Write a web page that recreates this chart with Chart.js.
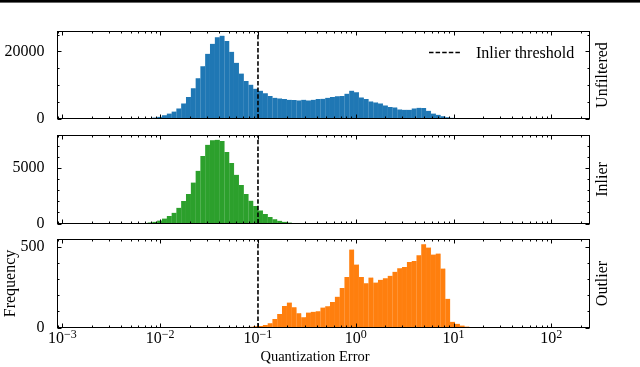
<!DOCTYPE html>
<html lang="en">
<head>
<meta charset="utf-8">
<title>Quantization Error</title>
<script src="https://cdn.jsdelivr.net/npm/chart.js"></script>
<style>
  body { margin: 0; background: #fff; }
  #topbar { position: absolute; left: 0; top: 0; width: 640px; height: 2px; background: #000; border-bottom: 1px solid #666; }
  canvas.panel { position: absolute; left: 0; top: 0; }
</style>
</head>
<body>
<div id="topbar"></div>
<canvas id="unfiltered" class="panel" width="640" height="367"></canvas>
<canvas id="inlier" class="panel" width="640" height="367"></canvas>
<canvas id="outlier" class="panel" width="640" height="367"></canvas>

<script>
// histogram bins are log10-spaced, one edge sits on the threshold
const threshold = 0.1;
const binWidth = 0.0491;          // decades per bin

// counts per bin, first entry is bin number <start> counted from the threshold edge
const unfilteredStart = -25;
const unfilteredCounts = [30, 60, 150, 300, 500, 1000, 1500, 2100, 3000, 4500, 6400, 9000, 12000, 15600, 19300, 22300, 24200, 24700, 23100, 19900, 16600, 13400, 11200, 10100, 8900,
  8300, 7500, 6700, 6200, 6000, 5800, 5600, 5500, 5400, 5600, 5400, 5600, 5800, 5900, 6200, 6400, 6600, 6700, 7400, 8300, 7800, 6300, 5800, 5100, 4800, 4500, 3900, 3400, 3300, 2700, 2600, 2600, 3000, 3200, 3100, 2300, 1500, 1100, 700, 400, 200, 80];

const inlierStart = -24;
const inlierCounts = [50, 100, 150, 270, 450, 670, 970, 1420, 2030, 2670, 3700, 4760, 6100, 7100, 7520, 7560, 7450, 6450, 5450, 4390, 3480, 2670, 2060, 1580,
  1180, 850, 580, 390, 240, 150, 90, 40, 15];

const outlierStart = -3;
const outlierCounts = [3, 5, 8, 10, 15, 27, 52, 83, 133, 155, 126, 89, 64, 93, 97, 100, 124, 131, 158, 191, 245, 313, 483,
  390, 313, 274, 309, 278, 295, 305, 320, 345, 367, 375, 406, 412, 448, 516, 495, 452, 458, 365, 178, 35, 23, 12, 6];

// axes
const xMin = -3.05, xMax = 2.39;  // log10 of the x limits
const xTicks = [-3, -2, -1, 0, 1, 2];
const unfilteredMax = 25950, inlierMax = 7940, outlierMax = 545;
const unfilteredTicks = [0, 20000], inlierTicks = [0, 5000], outlierTicks = [0, 500];

const SERIF = '"Liberation Serif", "Times New Roman", serif';

Chart.defaults.font.family = SERIF;
Chart.defaults.font.size = 16;
Chart.defaults.color = '#000';

function toPoints(start, counts) {
  return counts.map((c, i) => ({ x: Math.log10(threshold) + (start + i + 0.5) * binWidth, y: c }));
}

// box, inward ticks on all four sides, side label and extra texts
const frame = {
  id: 'frame',
  afterDraw(chart, args, o) {
    const { ctx, chartArea: a, scales: { x, y } } = chart;
    ctx.save();
    ctx.strokeStyle = '#000';
    ctx.lineWidth = 1;
    ctx.beginPath();
    for (let d = -4; d <= 2; d++) {
      for (let m = 1; m < 10; m++) {
        const v = d + Math.log10(m);
        if (v < x.min || v > x.max) continue;
        const px = Math.round(x.getPixelForValue(v)) + 0.5;
        const len = m === 1 ? 4 : 2;
        ctx.moveTo(px, a.bottom); ctx.lineTo(px, a.bottom - len);
        ctx.moveTo(px, a.top); ctx.lineTo(px, a.top + len);
      }
    }
    for (let v = 0; v <= y.max; v += o.minor) {
      const py = Math.round(y.getPixelForValue(v)) + 0.5;
      const len = v % o.major === 0 ? 4 : 2;
      ctx.moveTo(a.left, py); ctx.lineTo(a.left + len, py);
      ctx.moveTo(a.right, py); ctx.lineTo(a.right - len, py);
    }
    ctx.stroke();
    ctx.strokeRect(a.left, a.top, a.right - a.left, a.bottom - a.top);

    ctx.fillStyle = '#000';
    ctx.font = '16px ' + SERIF;
    ctx.textAlign = 'center';
    ctx.textBaseline = 'alphabetic';
    ctx.save();
    ctx.translate(a.right + 17, (a.top + a.bottom) / 2);
    ctx.rotate(-Math.PI / 2);
    ctx.fillText(o.side, 0, 0);
    ctx.restore();

    if (o.legend) {
      const ly = a.top + 21;
      ctx.save();
      ctx.lineWidth = 1.6;
      ctx.setLineDash([4.5, 2.1]);
      ctx.beginPath();
      ctx.moveTo(a.right - 160.5, ly); ctx.lineTo(a.right - 127.5, ly);
      ctx.stroke();
      ctx.restore();
      ctx.textAlign = 'left';
      ctx.fillText(o.legend, a.right - 113.5, ly + 5.5);
    }
    if (o.xTitle) {
      // decade labels 10^k under the bottom axis
      ctx.textAlign = 'left';
      xTicks.forEach(v => {
        const base = '10', exp = (v < 0 ? '\u2212' : '') + Math.abs(v);
        ctx.font = '16px ' + SERIF;
        const w1 = ctx.measureText(base).width;
        ctx.font = '12px ' + SERIF;
        const w2 = ctx.measureText(exp).width;
        const x0 = x.getPixelForValue(v) - (w1 + w2) / 2;
        ctx.fillText(exp, x0 + w1, a.bottom + 10.5);
        ctx.font = '16px ' + SERIF;
        ctx.fillText(base, x0, a.bottom + 15.8);
      });
      ctx.textAlign = 'center';
      ctx.save();
      ctx.translate(15, (a.top + a.bottom) / 2);
      ctx.rotate(-Math.PI / 2);
      ctx.fillText(o.yTitle, 0, 0);
      ctx.restore();
      ctx.font = '14.5px ' + SERIF;
      ctx.fillText(o.xTitle, 315, 361);
    }
    ctx.restore();
  }
};

function makePanel(id, cfg) {
  return new Chart(document.getElementById(id), {
    type: 'bar',
    data: {
      datasets: [{
        type: 'line',
        data: [{ x: Math.log10(threshold), y: 0 }, { x: Math.log10(threshold), y: cfg.yMax }],
        borderColor: '#000',
        borderWidth: 1.6,
        borderDash: [4.5, 2.1],
        pointRadius: 0,
        order: 0
      }, {
        data: toPoints(cfg.start, cfg.counts),
        backgroundColor: cfg.color,
        borderColor: cfg.edge,
        borderWidth: { left: 0, right: 0.4, top: 0, bottom: 0 },
        barPercentage: 1,
        categoryPercentage: 1,
        grouped: false,
        order: 1
      }]
    },
    options: {
      responsive: false,
      animation: false,
      devicePixelRatio: 1,
      layout: { padding: { left: 0, right: 50.5, top: cfg.top, bottom: 367 - cfg.bottom } },
      plugins: {
        legend: { display: false },
        tooltip: { enabled: false },
        frame: { side: cfg.side, major: cfg.major, minor: cfg.minor, legend: cfg.legend, xTitle: cfg.xTitle, yTitle: cfg.yTitle }
      },
      scales: {
        x: {
          type: 'linear',
          min: xMin,
          max: xMax,
          offset: false,
          bounds: 'data',
          grid: { display: false },
          border: { display: false },
          afterBuildTicks: s => { s.ticks = xTicks.map(v => ({ value: v })); },
          afterFit: s => { s.height = 0; },
          ticks: { display: false }
        },
        y: {
          min: 0,
          max: cfg.yMax,
          bounds: 'data',
          grid: { display: false },
          border: { display: false },
          afterBuildTicks: s => { s.ticks = cfg.ticks.map(v => ({ value: v })); },
          afterFit: s => { s.width = 57.5; },
          ticks: { padding: 5, callback: v => String(v) }
        }
      }
    },
    plugins: [frame]
  });
}

makePanel('unfiltered', {
  start: unfilteredStart, counts: unfilteredCounts, color: '#1f77b4', edge: '#3a88bf',
  yMax: unfilteredMax, ticks: unfilteredTicks, major: 20000, minor: 5000,
  top: 31.5, bottom: 118.5, side: 'Unfiltered', legend: 'Inlier threshold'
});
makePanel('inlier', {
  start: inlierStart, counts: inlierCounts, color: '#2ca02c', edge: '#45ac45',
  yMax: inlierMax, ticks: inlierTicks, major: 5000, minor: 1000,
  top: 135.5, bottom: 223.5, side: 'Inlier'
});
makePanel('outlier', {
  start: outlierStart, counts: outlierCounts, color: '#ff7f0e', edge: '#ff8f2e',
  yMax: outlierMax, ticks: outlierTicks, major: 500, minor: 100,
  top: 239.5, bottom: 327.5, side: 'Outlier',
  xTitle: 'Quantization Error', yTitle: 'Frequency'
});
</script>
</body>
</html>
